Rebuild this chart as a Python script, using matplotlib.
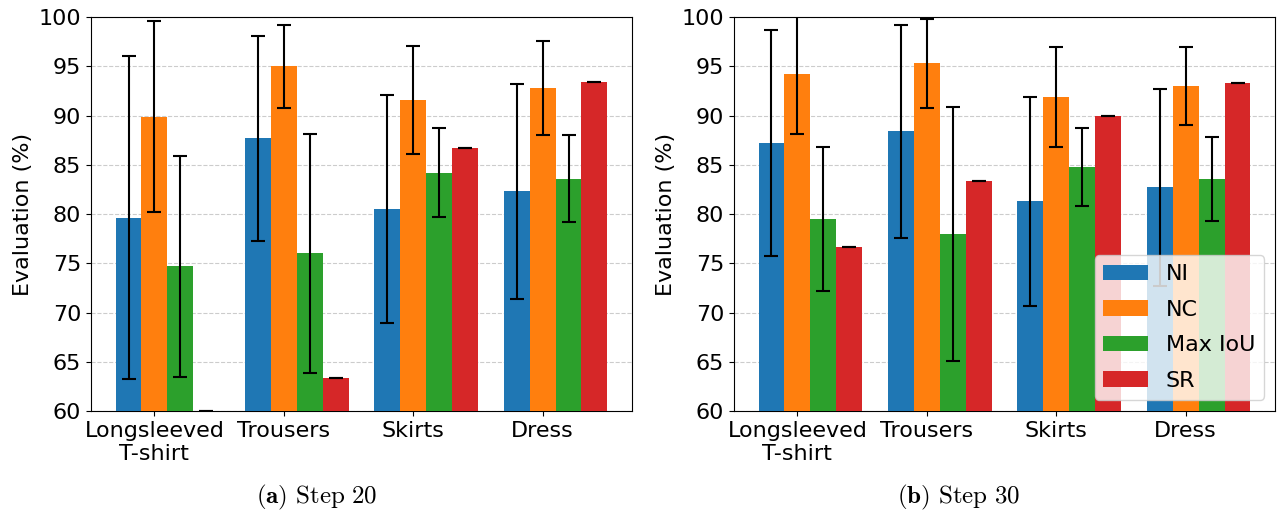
import matplotlib
matplotlib.use("Agg")
import matplotlib.pyplot as plt
import numpy as np

plt.rcParams['mathtext.fontset'] = 'cm'

categories = ["Longsleeved\nT-shirt", "Trousers", "Skirts", "Dress"]
series = ["NI", "NC", "Max IoU", "SR"]
colors = ["#1f77b4", "#ff7f0e", "#2ca02c", "#d62728"]

# Step 20
s20_ni = [79.6, 87.7, 80.5, 82.3]
s20_ni_err = [16.4, 10.4, 11.6, 10.9]
s20_nc = [89.9, 95.0, 91.6, 92.8]
s20_nc_err = [9.7, 4.2, 5.5, 4.8]
s20_iou = [74.7, 76.0, 84.2, 83.6]
s20_iou_err = [11.2, 12.1, 4.5, 4.4]
s20_sr = [60.0, 63.4, 86.67, 93.4]
s20_sr_err = [0, 0, 0, 0]

# Step 30
s30_ni = [87.2, 88.4, 81.3, 82.7]
s30_ni_err = [11.5, 10.8, 10.6, 10.0]
s30_nc = [94.2, 95.3, 91.9, 93.0]
s30_nc_err = [6.1, 4.5, 5.1, 4.0]
s30_iou = [79.5, 78.0, 84.75, 83.55]
s30_iou_err = [7.3, 12.9, 3.95, 4.3]
s30_sr = [76.67, 83.33, 90.0, 93.33]
s30_sr_err = [0, 0, 0, 0]

fig = plt.figure(figsize=(12.78, 5.17), dpi=100)
ax1 = fig.add_axes([0.0712, 0.205, 0.4233, 0.762])
ax2 = fig.add_axes([0.5743, 0.205, 0.4234, 0.762])

x = np.arange(len(categories))
w = 0.2

def draw(ax, vals, errs, legend=False):
    for i, (v, e) in enumerate(zip(vals, errs)):
        ax.bar(x + (i - 1) * w, v, w, yerr=e, color=colors[i], label=series[i],
               capsize=5, error_kw=dict(ecolor='black', elinewidth=1.5, capthick=1.5), zorder=3)
    ax.set_ylim(60, 100)
    ax.set_xticks(x)
    ax.set_xticklabels(categories, fontsize=16)
    ax.tick_params(axis='y', labelsize=16)
    ax.set_yticks(np.arange(60, 101, 5))
    ax.set_ylabel("Evaluation (%)", fontsize=16)
    ax.yaxis.grid(True, linestyle='--', color='#cccccc', linewidth=0.8, zorder=0)
    ax.set_axisbelow(True)
    if legend:
        ax.legend(loc='lower right', fontsize=16, labelspacing=0.7)

draw(ax1, [s20_ni, s20_nc, s20_iou, s20_sr], [s20_ni_err, s20_nc_err, s20_iou_err, s20_sr_err])
draw(ax2, [s30_ni, s30_nc, s30_iou, s30_sr], [s30_ni_err, s30_nc_err, s30_iou_err, s30_sr_err], legend=True)

fig.text(0.248, 0.038, r"$\mathbf{(a)}$ $\mathrm{Step\ 20}$", ha='center', va='center', fontsize=18)
fig.text(0.750, 0.038, r"$\mathbf{(b)}$ $\mathrm{Step\ 30}$", ha='center', va='center', fontsize=18)

fig.savefig("out.png", dpi=100)
